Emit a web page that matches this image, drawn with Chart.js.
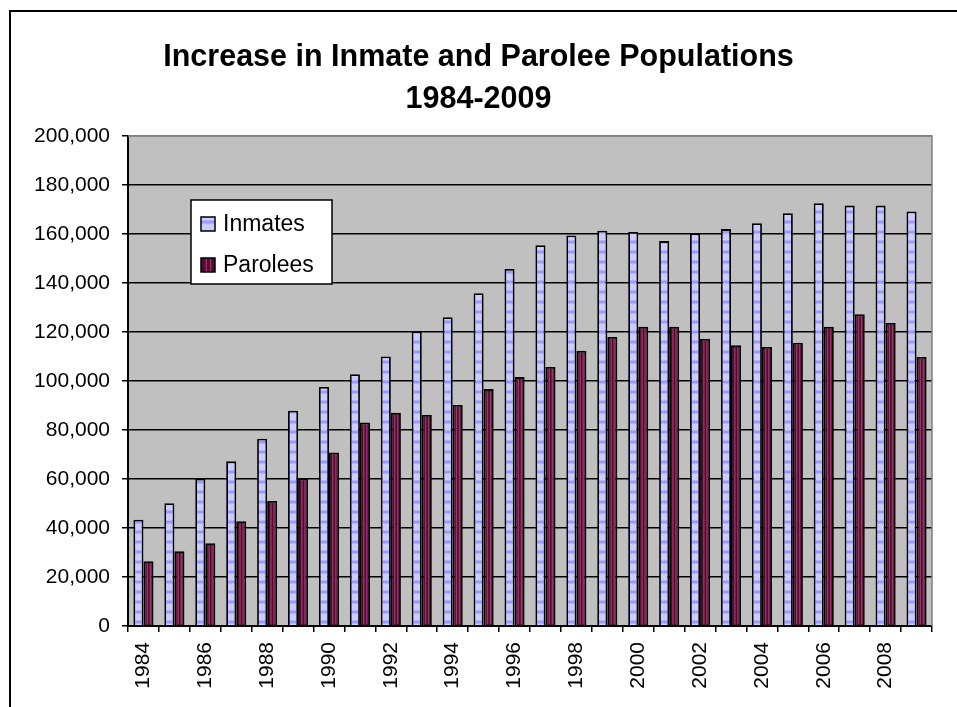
<!DOCTYPE html>
<html>
<head>
<meta charset="utf-8">
<title>Increase in Inmate and Parolee Populations</title>
<script src="https://cdn.jsdelivr.net/npm/chart.js@4.4.0/dist/chart.umd.min.js"></script>
<style>
  html, body { margin: 0; padding: 0; background: #fff; overflow: hidden; }
  #wrap { position: relative; width: 957px; height: 707px; }
</style>
</head>
<body>
<div id="wrap"><canvas id="chart"></canvas></div>
<script>
// data
const years = ["1984","1985","1986","1987","1988","1989","1990","1991","1992","1993","1994","1995","1996",
               "1997","1998","1999","2000","2001","2002","2003","2004","2005","2006","2007","2008","2009"];
const inmates = [43400, 50100, 60100, 67200, 76400, 87900, 97600, 102800, 110000, 120300, 126000, 135800, 145700,
                 155400, 159400, 161300, 160800, 157100, 160200, 162000, 164400, 168500, 172600, 171600, 171600, 169200];
const parolees = [26400, 30500, 33800, 42800, 51000, 60200, 70800, 83100, 87000, 86100, 90200, 96700, 101600,
                  105700, 112300, 118000, 122100, 122100, 117200, 114600, 113900, 115600, 122100, 127200, 123700, 109800];
const seriesNames = ["Inmates", "Parolees"];
const titleLines = ["Increase in Inmate and Parolee Populations", "1984-2009"];
const yMax = 200000;
const yStep = 20000;

const FONT = '"Liberation Sans", Arial, sans-serif';
Chart.defaults.font.family = FONT;
Chart.defaults.color = "#000";

// lavender fill with blue horizontal stripes
function makeInmatePattern() {
  const c = document.createElement("canvas");
  c.width = 10; c.height = 10;
  const g = c.getContext("2d");
  g.fillStyle = "#ccccff";
  g.fillRect(0, 0, 10, 10);
  g.fillStyle = "#b3b3ff";
  g.fillRect(0, 0, 10, 4);
  g.fillStyle = "#9999ff";
  g.fillRect(0, 1, 10, 2);
  return g.createPattern(c, "repeat");
}
const inmatePattern = makeInmatePattern();
const paroleeFill = "#4a0f2e";
const paroleeStripe = "#a0306a";

function drawParoleeStripes(ctx, left, top, w, bottom) {
  ctx.strokeStyle = paroleeStripe;
  ctx.lineWidth = 1.4;
  [0.38, 0.68].forEach(f => {
    const sx = left + w * f;
    ctx.beginPath();
    ctx.moveTo(sx, top);
    ctx.lineTo(sx, bottom);
    ctx.stroke();
  });
}

// white page, frame, grey plot area
const background = {
  id: "background",
  beforeDraw(chart) {
    const {ctx, chartArea: a, width, height} = chart;
    ctx.save();
    ctx.fillStyle = "#fff";
    ctx.fillRect(0, 0, width, height);
    ctx.strokeStyle = "#000";
    ctx.lineWidth = 2;
    ctx.beginPath();
    ctx.moveTo(10, height + 2);
    ctx.lineTo(10, 11);
    ctx.lineTo(width + 2, 11);
    ctx.stroke();
    ctx.fillStyle = "#c0c0c0";
    ctx.fillRect(a.left, a.top, a.right - a.left, a.bottom - a.top);
    ctx.restore();
  },
  beforeDatasetsDraw(chart) {
    const {ctx, chartArea: a} = chart;
    ctx.save();
    ctx.strokeStyle = "#808080";
    ctx.lineWidth = 1.5;
    ctx.beginPath();
    ctx.moveTo(a.left, a.top);
    ctx.lineTo(a.right, a.top);
    ctx.lineTo(a.right, a.bottom);
    ctx.stroke();
    ctx.restore();
  }
};

// vertical stripes on parolee bars
const stripes = {
  id: "stripes",
  afterDatasetsDraw(chart) {
    const ctx = chart.ctx;
    ctx.save();
    chart.getDatasetMeta(1).data.forEach(bar => {
      const {x, y, base, width} = bar.getProps(["x", "y", "base", "width"], true);
      drawParoleeStripes(ctx, x - width / 2, y + 2, width, base - 1);
    });
    ctx.restore();
  }
};

// legend box inside the plot
const legendBox = {
  id: "legendBox",
  afterDraw(chart) {
    const {ctx, chartArea: a} = chart;
    const x = a.left + 63, y = a.top + 64, w = 141, h = 84;
    ctx.save();
    ctx.fillStyle = "#fff";
    ctx.fillRect(x, y, w, h);
    ctx.strokeStyle = "#000";
    ctx.lineWidth = 1.5;
    ctx.strokeRect(x, y, w, h);
    ctx.font = "23px " + FONT;
    ctx.textBaseline = "middle";
    chart.data.datasets.forEach((ds, i) => {
      const cy = y + 24 + i * 41;
      const sx = x + 10, s = 14;
      ctx.fillStyle = ds.backgroundColor;
      ctx.fillRect(sx, cy - s / 2, s, s);
      if (i === 1) drawParoleeStripes(ctx, sx, cy - s / 2, s, cy + s / 2);
      ctx.strokeStyle = "#000";
      ctx.lineWidth = 1.5;
      ctx.strokeRect(sx, cy - s / 2, s, s);
      ctx.fillStyle = "#000";
      ctx.fillText(ds.label, sx + 22, cy + 1);
    });
    ctx.restore();
  }
};

new Chart(document.getElementById("chart"), {
  type: "bar",
  plugins: [background, stripes, legendBox],
  data: {
    labels: years,
    datasets: [
      {
        label: seriesNames[0],
        data: inmates,
        backgroundColor: inmatePattern,
        borderColor: "#000",
        borderWidth: 1.8,
        borderSkipped: "bottom",
        categoryPercentage: 0.65,
        barPercentage: 1.0
      },
      {
        label: seriesNames[1],
        data: parolees,
        backgroundColor: paroleeFill,
        borderColor: "#000",
        borderWidth: 1.8,
        borderSkipped: "bottom",
        categoryPercentage: 0.65,
        barPercentage: 1.0
      }
    ]
  },
  options: {
    responsive: true,
    maintainAspectRatio: false,
    animation: false,
    // symmetric padding so the title is centred on the page
    layout: { padding: { left: 17, right: 17, top: 0, bottom: 0 } },
    plugins: {
      legend: { display: false },
      tooltip: { enabled: false },
      title: {
        display: true,
        text: titleLines,
        color: "#000",
        font: { size: 30.5, weight: "bold", lineHeight: 1.377 },
        padding: { top: 37, bottom: 15 }
      }
    },
    scales: {
      x: {
        grid: { drawOnChartArea: false, drawTicks: true, tickLength: 6, tickColor: "#000", lineWidth: 1.5 },
        border: { color: "#000", width: 2 },
        ticks: {
          autoSkip: false,
          minRotation: 90,
          maxRotation: 90,
          padding: 10,
          font: { size: 21 },
          callback: (v, i) => (i % 2 === 0 ? years[i] : "")
        },
        afterFit: s => { s.height = 81; }
      },
      y: {
        min: 0,
        max: yMax,
        grid: {
          color: c => (c.tick && c.tick.value === yMax ? "#808080" : "#000"),
          lineWidth: 1.5,
          tickLength: 6,
          tickColor: "#000"
        },
        border: { color: "#000", width: 2 },
        ticks: {
          stepSize: yStep,
          padding: 12,
          font: { size: 21 },
          callback: v => v.toLocaleString("en-US")
        },
        afterFit: s => { s.width = 111; }
      },
      // empty spacer on the right edge of the plot
      yRight: {
        position: "right",
        grid: { display: false },
        border: { display: false },
        ticks: { display: false },
        afterFit: s => { s.width = 8; }
      }
    }
  }
});
</script>
</body>
</html>
